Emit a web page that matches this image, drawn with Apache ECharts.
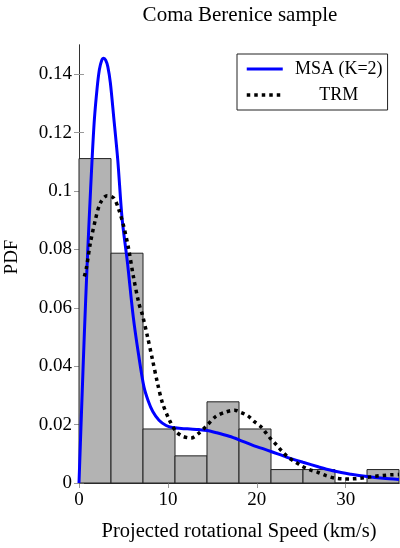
<!DOCTYPE html>
<html><head><meta charset="utf-8">
<script src="https://cdn.jsdelivr.net/npm/echarts@6/dist/echarts.min.js"></script>
<style>html,body{margin:0;padding:0;background:#fff}#c{width:400px;height:548px}</style>
</head><body><div id="c"></div>
<script>
// ---- data ----
const binStarts = [0, 3.6, 7.2, 10.8, 14.4, 18, 21.6, 25.2, 28.8, 32.4];
const binWidth = 3.6;
const binHeights = [0.1111, 0.0787, 0.0185, 0.0093, 0.0278, 0.0185, 0.0046, 0.0046, 0, 0.0046];

const msaX = [0, 0.3, 0.6, 0.9, 1.16, 1.47, 1.73, 2.03, 2.29, 2.55, 2.78, 3.0, 3.24, 3.53, 3.9, 4.36, 4.85, 5.45, 6.1, 6.7, 7.3, 7.8, 8.3, 9.0, 9.8, 10.5, 11.5, 12.5, 13.5, 14.4, 15.5, 16.9, 18, 19.5, 21.6, 23.4, 25.2, 27, 28.8, 30.6, 32.4, 34.2, 36];
const msaY = [0, 0.026, 0.051, 0.0737, 0.0913, 0.1107, 0.1245, 0.135, 0.1415, 0.1447, 0.1455, 0.1448, 0.1426, 0.137, 0.1255, 0.1107, 0.0905, 0.0755, 0.057, 0.044, 0.033, 0.028, 0.0245, 0.0215, 0.0197, 0.019, 0.0187, 0.0185, 0.0183, 0.018, 0.0172, 0.016, 0.0148, 0.013, 0.0108, 0.0088, 0.0071, 0.0055, 0.004, 0.003, 0.0022, 0.0016, 0.0012];

const trmX = [0.6, 0.83, 1.28, 1.84, 2.4, 3.16, 3.91, 4.48, 5.04, 5.6, 6.1, 6.73, 7.14, 7.7, 8.27, 8.83, 9.39, 10.15, 10.9, 11.65, 12.6, 13.5, 14.3, 15.4, 16.5, 17.5, 18.2, 19, 19.7, 20.5, 21.05, 21.6, 22.2, 22.85, 23.6, 24.35, 25.1, 25.9, 26.9, 27.8, 28.75, 29.7, 30.6, 31.6, 32.4, 33.3, 34.2, 35.1, 36];
const trmY = [0.0707, 0.0736, 0.0822, 0.0901, 0.0959, 0.0984, 0.0976, 0.0936, 0.0878, 0.0799, 0.071, 0.0616, 0.0575, 0.0502, 0.0422, 0.0342, 0.0274, 0.0217, 0.0177, 0.016, 0.0154, 0.0171, 0.0194, 0.0228, 0.0243, 0.0249, 0.0242, 0.023, 0.0211, 0.0192, 0.0171, 0.015, 0.0131, 0.0108, 0.0086, 0.0072, 0.0057, 0.0046, 0.0036, 0.0025, 0.0017, 0.0014, 0.0014, 0.0016, 0.0019, 0.0023, 0.0026, 0.0028, 0.0029];

const xTicks = [0, 10, 20, 30];
const yTicks = [0, 0.02, 0.04, 0.06, 0.08, 0.1, 0.12, 0.14];

const titleText = 'Coma Berenice sample';
const xName = 'Projected rotational Speed (km/s)';
const yName = 'PDF';
const seriesNames = ['MSA (K=2)', 'TRM'];

// ---- chart ----
const FONT = 'Liberation Serif';
const frame = { show: true, lineStyle: { color: '#333', width: 1 } };
const tick = (vals) => ({ show: true, inside: true, length: 5, customValues: vals, lineStyle: { color: '#999', width: 1 } });

const chart = echarts.init(document.getElementById('c'), null, { renderer: 'canvas' });
chart.setOption({
  animation: false,
  backgroundColor: '#fff',
  graphic: [{
    type: 'text', x: 240, y: 15, silent: true,
    style: { text: titleText, fontFamily: FONT, fontSize: 21, fill: '#000', align: 'center', verticalAlign: 'middle' }
  }],
  grid: { left: 79, right: 1, top: 45, bottom: 65, outerBoundsMode: 'none', containLabel: false },
  legend: {
    data: [
      { name: seriesNames[0], lineStyle: { width: 3 }, itemStyle: { opacity: 0 } },
      { name: seriesNames[1], lineStyle: { width: 3.5 }, itemStyle: { opacity: 0 } }
    ],
    orient: 'vertical', left: 237, top: 54,
    itemWidth: 36, itemHeight: 14, itemGap: 8,
    padding: [6, 5, 6, 8],
    borderColor: '#222', borderWidth: 1, backgroundColor: '#fff',
    formatter: n => '{c|' + n + '}',
    textStyle: {
      fontFamily: FONT, fontSize: 18, color: '#000',
      rich: { c: { width: 102, align: 'center', fontFamily: FONT, fontSize: 18, color: '#000' } }
    }
  },
  xAxis: [
    {
      type: 'value', min: 0, max: 36, position: 'bottom',
      axisLine: frame, axisTick: tick(xTicks), splitLine: { show: false },
      axisLabel: { customValues: xTicks, margin: 8, fontFamily: FONT, fontSize: 19, color: '#000' },
      name: xName, nameLocation: 'middle', nameGap: 38,
      nameTextStyle: { fontFamily: FONT, fontSize: 20.5, color: '#000' }
    },
    {
      type: 'value', min: 0, max: 36, position: 'top',
      axisLine: frame, axisTick: tick(xTicks), splitLine: { show: false },
      axisLabel: { show: false }
    }
  ],
  yAxis: [
    {
      type: 'value', min: 0, max: 0.15, position: 'left',
      axisLine: frame, axisTick: tick(yTicks), splitLine: { show: false },
      axisLabel: { customValues: yTicks, margin: 7, fontFamily: FONT, fontSize: 19, color: '#000' },
      name: yName, nameLocation: 'middle', nameGap: 57,
      nameTextStyle: { fontFamily: FONT, fontSize: 19, color: '#000', padding: [0, 0, 0, 14] }
    },
    {
      type: 'value', min: 0, max: 0.15, position: 'right',
      axisLine: frame, axisTick: tick(yTicks), splitLine: { show: false },
      axisLabel: { show: false }
    }
  ],
  series: [
    {
      type: 'custom', name: 'hist', xAxisIndex: 0, yAxisIndex: 0, z: 1,
      data: binStarts.map((s, i) => [s, s + binWidth, binHeights[i]]),
      encode: { x: [0, 1], y: 2 },
      renderItem: (params, api) => {
        const p0 = api.coord([api.value(0), api.value(2)]);
        const p1 = api.coord([api.value(1), 0]);
        return {
          type: 'rect',
          shape: { x: p0[0], y: p0[1], width: p1[0] - p0[0], height: p1[1] - p0[1] },
          style: { fill: '#b3b3b3', stroke: '#222', lineWidth: 1 }
        };
      }
    },
    {
      type: 'line', name: seriesNames[0], xAxisIndex: 0, yAxisIndex: 0, z: 3,
      data: msaX.map((x, i) => [x, msaY[i]]),
      smooth: 0.3, symbol: 'none',
      lineStyle: { color: '#0000ff', width: 3 }, itemStyle: { color: '#0000ff' }
    },
    {
      type: 'line', name: seriesNames[1], xAxisIndex: 0, yAxisIndex: 0, z: 4,
      data: trmX.map((x, i) => [x, trmY[i]]),
      smooth: 0.3, symbol: 'none',
      lineStyle: { color: '#000', width: 3.5, type: [3.5, 4], cap: 'butt' }, itemStyle: { color: '#000' }
    }
  ]
});
</script>
</body></html>
